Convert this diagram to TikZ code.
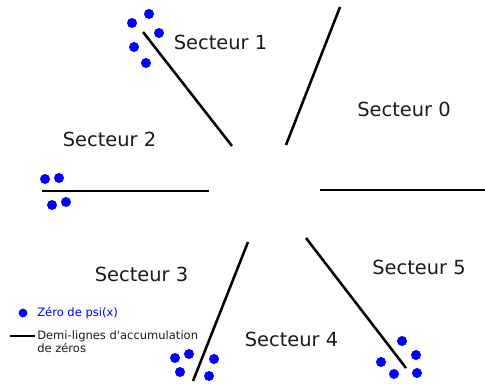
\documentclass[tikz,border=0pt]{standalone}
\usepackage{fontspec}
\setmainfont{DejaVu Sans}
\newfontfamily\legfont{DejaVu Sans}
\usepackage{xcolor}
\usepackage{tikz}
\usetikzlibrary{positioning}
\definecolor{zblue}{HTML}{0000FF}
\definecolor{ztext}{HTML}{1A1A1A}

\tikzset{
  halfline/.style={black, line width=1.8pt},
  sectlabel/.style={font=\fontsize{13.8}{16}\selectfont, text=ztext, inner sep=0pt},
  legtext/.style={font=\legfont\fontsize{8.2}{9}\selectfont, inner sep=0pt, anchor=west, align=left}
}

\begin{document}
\begin{tikzpicture}[x=1cm, y=1cm]
  \useasboundingbox (0,0) rectangle (12.125,9.6);

  %% Demi-lignes
  \draw[halfline] (3.575,8.80) -- (5.80,5.95);
  \draw[halfline] (8.50,9.425) -- (7.15,5.975);
  \draw[halfline] (8.00,4.85) -- (12.125,4.85);
  \draw[halfline] (1.05,4.825) -- (5.225,4.825);
  \draw[halfline] (6.20,3.55) -- (4.825,0.075);
  \draw[halfline] (7.65,3.65) -- (10.15,0.40);

  %% Zeros
  \foreach \x/\y in {3.725/9.25, 3.30/9.025, 3.975/8.775, 3.35/8.425, 3.65/8.025,
                     1.125/5.125, 1.475/5.15, 1.30/4.475, 1.65/4.55,
                     4.375/0.65, 4.725/0.75, 5.35/0.625, 4.50/0.30, 5.225/0.20,
                     10.05/1.075, 10.40/0.725, 9.525/0.55, 9.85/0.25, 10.425/0.275}
    \fill[zblue] (\x,\y) circle (0.125);

  %% Secteurs
  \node[sectlabel] (s0) at (10.10,6.875) {Secteur 0};
  \node[sectlabel] (s1) at (5.5125,8.5375) {Secteur 1};
  \node[sectlabel] (s2) at (2.7375,6.1125) {Secteur 2};
  \node[sectlabel] (s3) at (3.5375,2.75) {Secteur 3};
  \node[sectlabel] (s4) at (7.2875,1.125) {Secteur 4};
  \node[sectlabel] (s5) at (10.475,2.925) {Secteur 5};

  %% Legende
  \fill[zblue] (0.575,1.775) circle (0.11);
  \node[legtext, text=zblue] (leg1) at (0.925,1.775) {Zéro de psi(x)};
  \draw[halfline, line width=2pt] (0.25,1.20) -- (0.875,1.20);
  \node[legtext, text=ztext] (leg2) at (0.925,1.05) {Demi-lignes d'accumulation\\de zéros};

\end{tikzpicture}
\end{document}
